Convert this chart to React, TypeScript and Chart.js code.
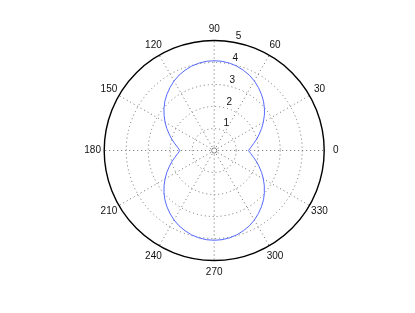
import React, { useEffect, useRef } from "react";
import { Chart, registerables } from "chart.js";

Chart.register(...registerables);

// angles in degrees (polar coordinate) and radius
const thetaDeg: number[] = [
  0, 5, 10, 15, 20, 25, 30, 35, 40, 45, 50, 55, 60, 65, 70, 75, 80, 85, 90,
  95, 100, 105, 110, 115, 120, 125, 130, 135, 140, 145, 150, 155, 160, 165, 170, 175, 180,
  185, 190, 195, 200, 205, 210, 215, 220, 225, 230, 235, 240, 245, 250, 255, 260, 265, 270,
  275, 280, 285, 290, 295, 300, 305, 310, 315, 320, 325, 330, 335, 340, 345, 350, 355, 360,
];
const radius: number[] = [
  1.56, 1.67, 1.82, 2.0, 2.18, 2.38, 2.58, 2.78, 2.98, 3.17, 3.34, 3.5, 3.65, 3.78, 3.88, 3.97, 4.03, 4.07, 4.08,
  4.07, 4.03, 3.97, 3.88, 3.78, 3.65, 3.5, 3.34, 3.17, 2.98, 2.78, 2.58, 2.38, 2.18, 2.0, 1.82, 1.67, 1.56,
  1.67, 1.82, 2.0, 2.18, 2.38, 2.58, 2.78, 2.98, 3.17, 3.34, 3.5, 3.65, 3.78, 3.88, 3.97, 4.03, 4.07, 4.08,
  4.07, 4.03, 3.97, 3.88, 3.78, 3.65, 3.5, 3.34, 3.17, 2.98, 2.78, 2.58, 2.38, 2.18, 2.0, 1.82, 1.67, 1.56,
];
const ringValues: number[] = [1, 2, 3, 4];
const rMax = 5;
const radialLabels: string[] = ["1", "2", "3", "4", "5"];
const spokeAngles: number[] = [0, 30, 60, 90, 120, 150, 180, 210, 240, 270, 300, 330];
const angleLabels: string[] = ["0", "30", "60", "90", "120", "150", "180", "210", "240", "270", "300", "330"];

const FONT = '10px "Liberation Sans", Arial, Helvetica, sans-serif';

const polarGrid = {
  id: "polarGrid",
  beforeDatasetsDraw(chart: any) {
    const ctx = chart.ctx as CanvasRenderingContext2D;
    const xs = chart.scales.x;
    const ys = chart.scales.y;
    const cx = xs.getPixelForValue(0);
    const cy = ys.getPixelForValue(0);
    const pxPerUnit = xs.getPixelForValue(1) - cx;
    ctx.save();
    // dotted rings
    ctx.strokeStyle = "#6e6e6e";
    ctx.lineWidth = 1;
    ctx.setLineDash([1, 3]);
    for (const rv of ringValues) {
      ctx.beginPath();
      ctx.arc(cx, cy, rv * pxPerUnit, 0, Math.PI * 2);
      ctx.stroke();
    }
    // spokes
    for (const a of spokeAngles) {
      const rad = (a * Math.PI) / 180;
      ctx.beginPath();
      ctx.moveTo(cx, cy);
      ctx.lineTo(cx + rMax * pxPerUnit * Math.cos(rad), cy - rMax * pxPerUnit * Math.sin(rad));
      ctx.stroke();
    }
    ctx.setLineDash([]);
    // center mark
    ctx.beginPath();
    ctx.arc(cx, cy, 2.6, 0, Math.PI * 2);
    ctx.fillStyle = "#fff";
    ctx.fill();
    ctx.strokeStyle = "#777";
    ctx.lineWidth = 0.9;
    ctx.stroke();
    // outer circle
    ctx.beginPath();
    ctx.arc(cx, cy, rMax * pxPerUnit, 0, Math.PI * 2);
    ctx.strokeStyle = "#000";
    ctx.lineWidth = 1.4;
    ctx.stroke();
    ctx.restore();
  },
  afterDraw(chart: any) {
    const ctx = chart.ctx as CanvasRenderingContext2D;
    const xs = chart.scales.x;
    const ys = chart.scales.y;
    const cx = xs.getPixelForValue(0);
    const cy = ys.getPixelForValue(0);
    const pxPerUnit = xs.getPixelForValue(1) - cx;
    ctx.save();
    ctx.font = FONT;
    ctx.fillStyle = "#111";
    // angle labels
    ctx.textAlign = "center";
    ctx.textBaseline = "middle";
    angleLabels.forEach((lab, i) => {
      const rad = (spokeAngles[i] * Math.PI) / 180;
      const rr = rMax * pxPerUnit * 1.105;
      ctx.fillText(lab, cx + rr * Math.cos(rad), cy - rr * Math.sin(rad));
    });
    // radial labels along 82 degrees
    ctx.textAlign = "left";
    ctx.textBaseline = "bottom";
    const a82 = (82 * Math.PI) / 180;
    radialLabels.forEach((lab, i) => {
      const rv = (i + 1 + 0.05) * pxPerUnit;
      ctx.fillText(lab, cx + rv * Math.cos(a82) + 6, cy - rv * Math.sin(a82) + 1);
    });
    ctx.restore();
  },
};

export default function App() {
  const canvasRef = useRef<HTMLCanvasElement | null>(null);

  useEffect(() => {
    if (!canvasRef.current) return;
    const points = thetaDeg.map((t, i) => {
      const rad = (t * Math.PI) / 180;
      return { x: radius[i] * Math.cos(rad), y: radius[i] * Math.sin(rad) };
    });
    const chart = new Chart(canvasRef.current, {
      type: "scatter",
      data: {
        datasets: [
          {
            data: points,
            showLine: true,
            borderColor: "rgb(85,105,255)",
            borderWidth: 1,
            pointRadius: 0,
            tension: 0,
            clip: false as any,
          },
        ],
      },
      options: {
        animation: false,
        responsive: false,
        maintainAspectRatio: false,
        events: [],
        layout: { padding: { left: 104.2, right: 90.8, top: 40.5, bottom: 52.5 } },
        plugins: { legend: { display: false }, tooltip: { enabled: false } },
        scales: {
          x: { type: "linear", min: -rMax, max: rMax, display: false },
          y: { type: "linear", min: -rMax, max: rMax, display: false },
        },
      },
      plugins: [polarGrid],
    });
    return () => chart.destroy();
  }, []);

  return (
    <div style={{ position: "fixed", left: 0, top: 0, width: 415, height: 313, background: "#fff" }}>
      <canvas ref={canvasRef} width={415} height={313} />
    </div>
  );
}
